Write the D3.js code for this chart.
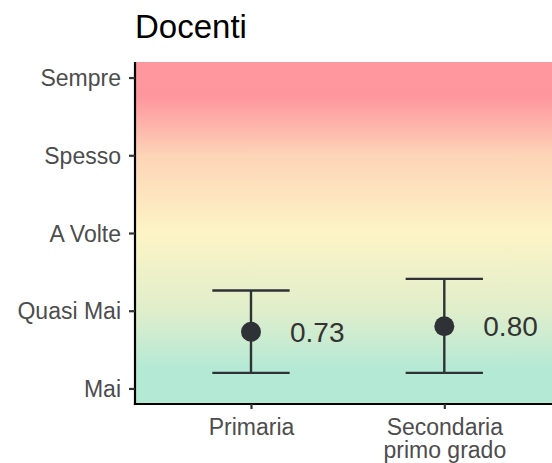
<!DOCTYPE html>
<html lang="it">
<head>
<meta charset="UTF-8">
<title>Docenti</title>
<script src="https://cdn.jsdelivr.net/npm/d3@7"></script>
<style>
  body { margin: 0; background: #fff; }
  svg { font-family: "Liberation Sans", Arial, sans-serif; display: block; }
</style>
</head>
<body>
<svg id="viz"></svg>
<script>
// data
const categories = ["Primaria", "Secondaria\nprimo grado"];
const means = [0.73, 0.80];
const lower = [0.20, 0.20];
const upper = [1.26, 1.41];
const levelLabels = ["Mai", "Quasi Mai", "A Volte", "Spesso", "Sempre"];
const levelValues = [0, 1, 2, 3, 4];

// background colour by level value
const bgStops = [
  [-0.2, "#b4e9d6"], [0.25, "#b4e9d6"], [1, "#e0eecb"], [2, "#fdf4c6"],
  [3, "#fdd4b7"], [3.75, "#fe969e"], [4.2, "#fe979e"]
];

const width = 552, height = 463;
const margin = {top: 62, right: 0, bottom: 59, left: 135};

const svg = d3.select("#viz")
  .attr("width", width)
  .attr("height", height);

const y = d3.scaleLinear()
  .domain([-0.2, 4.2])
  .range([height - margin.bottom, margin.top]);

// discrete scale with ggplot-like 0.6 expansion, runs past the right edge
const x = d3.scalePoint()
  .domain(categories)
  .range([margin.left, 560.3])
  .padding(0.6);

const step = x.step();

// gradient background
const grad = svg.append("defs").append("linearGradient")
  .attr("id", "bg")
  .attr("gradientUnits", "userSpaceOnUse")
  .attr("x1", 0).attr("x2", 0)
  .attr("y1", y(-0.2)).attr("y2", y(4.2));

grad.selectAll("stop")
  .data(bgStops)
  .join("stop")
    .attr("offset", d => (d[0] + 0.2) / 4.4)
    .attr("stop-color", d => d[1]);

svg.append("rect")
  .attr("x", margin.left)
  .attr("y", y(4.2))
  .attr("width", width - margin.left)
  .attr("height", y(-0.2) - y(4.2))
  .attr("fill", "url(#bg)");

const rows = categories.map((c, i) => ({cat: c, mean: means[i], lo: lower[i], hi: upper[i]}));
const ink = "#2e3236";

const g = svg.selectAll(".bar")
  .data(rows)
  .join("g")
    .attr("class", "bar");

g.append("line")
  .attr("x1", d => x(d.cat)).attr("x2", d => x(d.cat))
  .attr("y1", d => y(d.lo)).attr("y2", d => y(d.hi))
  .attr("stroke", ink).attr("stroke-width", 2.4);

g.selectAll(".cap")
  .data(d => [[d.cat, d.lo], [d.cat, d.hi]])
  .join("line")
    .attr("class", "cap")
    .attr("x1", d => x(d[0]) - step * 0.2)
    .attr("x2", d => x(d[0]) + step * 0.2)
    .attr("y1", d => y(d[1])).attr("y2", d => y(d[1]))
    .attr("stroke", ink).attr("stroke-width", 2.4);

g.append("circle")
  .attr("cx", d => x(d.cat))
  .attr("cy", d => y(d.mean))
  .attr("r", 10)
  .attr("fill", ink);

g.append("text")
  .attr("x", d => x(d.cat) + 39)
  .attr("y", d => y(d.mean))
  .attr("dy", "0.36em")
  .attr("font-size", 28)
  .attr("fill", "#333")
  .text(d => d.mean.toFixed(2));

// axes
const yAxis = svg.append("g")
  .attr("transform", `translate(${margin.left},0)`)
  .call(d3.axisLeft(y).tickValues(levelValues)
    .tickFormat((d, i) => levelLabels[i])
    .tickSize(6).tickSizeOuter(0).tickPadding(8));

const xAxis = svg.append("g")
  .attr("transform", `translate(0,${y(-0.2)})`)
  .call(d3.axisBottom(x).tickSize(5).tickSizeOuter(0).tickPadding(10));

[yAxis, xAxis].forEach(ax => {
  ax.select(".domain").attr("stroke", "#000").attr("stroke-width", 2.2);
  ax.selectAll(".tick line").attr("stroke", "#333").attr("stroke-width", 2.2);
  ax.selectAll(".tick text").attr("font-size", 23).attr("fill", "#4d4d4d");
});
yAxis.select(".domain").attr("d", `M0,${y(4.2)}V${y(-0.2) + 1.1}`);
xAxis.select(".domain").attr("d", `M${margin.left - 1.1},0H${width}`);
yAxis.selectAll(".tick text").attr("dy", "0.35em");

xAxis.selectAll(".tick text")
  .text(null)
  .selectAll("tspan")
  .data(d => d.split("\n"))
  .join("tspan")
    .attr("x", 0)
    .attr("dy", (d, i) => i === 0 ? "0.71em" : "1.0em")
    .text(d => d);

svg.append("text")
  .attr("x", 135)
  .attr("y", 38)
  .attr("font-size", 33)
  .attr("fill", "#000")
  .text("Docenti");
</script>
</body>
</html>
